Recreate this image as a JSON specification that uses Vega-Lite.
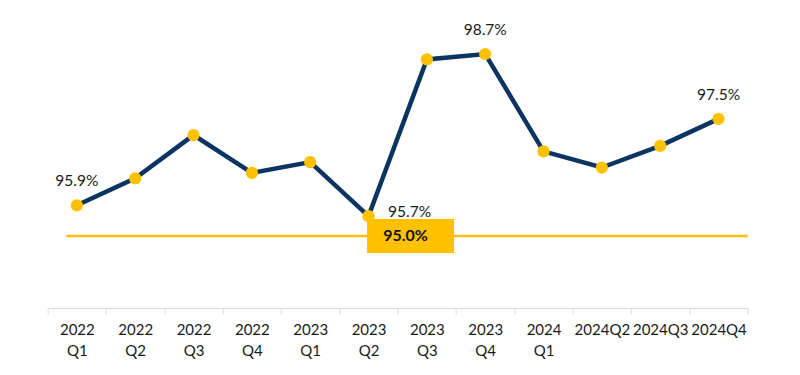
{
  "$schema": "https://vega.github.io/schema/vega-lite/v6.json",
  "width": 700,
  "height": 308,
  "autosize": {"type": "none"},
  "padding": {"left": 47.7, "top": 0, "right": 52.3, "bottom": 67},
  "background": "white",
  "config": {
    "view": {"stroke": null},
    "font": "Lato",
    "text": {"font": "Lato"}
  },
  "datasets": {
    "series": [
      {"period": "2022 Q1", "value": 0.959},
      {"period": "2022 Q2", "value": 0.964},
      {"period": "2022 Q3", "value": 0.972},
      {"period": "2022 Q4", "value": 0.965},
      {"period": "2023 Q1", "value": 0.967},
      {"period": "2023 Q2", "value": 0.957},
      {"period": "2023 Q3", "value": 0.986},
      {"period": "2023 Q4", "value": 0.987},
      {"period": "2024 Q1", "value": 0.969},
      {"period": "2024Q2", "value": 0.966},
      {"period": "2024Q3", "value": 0.970},
      {"period": "2024Q4", "value": 0.975}
    ],
    "target": [{"period": "2023 Q2", "target": 0.95}]
  },
  "resolve": {"scale": {"y": "independent"}},
  "layer": [
    {
      "data": {"name": "series"},
      "mark": {"type": "line", "color": "#0B3461", "strokeWidth": 4.5},
      "encoding": {
        "x": {
          "field": "period", "type": "nominal", "sort": null, "bandPosition": 0.5,
          "scale": {"type": "band", "paddingInner": 0, "paddingOuter": 0},
          "axis": {
            "title": null,
            "labelAngle": 0,
            "labelExpr": "split(datum.label, ' ')",
            "labelFont": "Lato",
            "labelFontSize": 15,
            "labelColor": "#1a1a1a",
            "labelLineHeight": 21,
            "labelPadding": 8,
            "labelBaseline": "top",
            "tickBand": "extent",
            "tickColor": "#D9D9D9",
            "tickSize": 6,
            "domainColor": "#D9D9D9",
            "domainWidth": 1.2,
            "grid": false
          }
        },
        "y": {"field": "value", "type": "quantitative", "scale": {"domain": [0.94, 0.997], "zero": false, "nice": false}, "axis": null}
      }
    },
    {
      "data": {"name": "series"},
      "mark": {"type": "point", "filled": true, "color": "#FFC000", "size": 150, "opacity": 1},
      "encoding": {
        "x": {"field": "period", "type": "nominal", "sort": null, "bandPosition": 0.5},
        "y": {"field": "value", "type": "quantitative", "scale": {"domain": [0.94, 0.997], "zero": false, "nice": false}, "axis": null}
      }
    },
    {
      "data": {"name": "series"},
      "transform": [{"filter": {"field": "period", "oneOf": ["2022 Q1", "2023 Q4", "2024Q4"]}}],
      "mark": {"type": "text", "dy": -24, "fontSize": 15.5, "color": "#1a1a1a", "baseline": "middle", "align": "center"},
      "encoding": {
        "x": {"field": "period", "type": "nominal", "sort": null, "bandPosition": 0.5},
        "y": {"field": "value", "type": "quantitative", "scale": {"domain": [0.94, 0.997], "zero": false, "nice": false}, "axis": null},
        "text": {"field": "value", "type": "quantitative", "format": ".1%"}
      }
    },
    {
      "data": {"name": "series"},
      "transform": [{"filter": {"field": "period", "oneOf": ["2023 Q2"]}}],
      "mark": {"type": "text", "dx": 41, "dy": -4, "fontSize": 15.5, "color": "#1a1a1a", "baseline": "middle", "align": "center"},
      "encoding": {
        "x": {"field": "period", "type": "nominal", "sort": null, "bandPosition": 0.5},
        "y": {"field": "value", "type": "quantitative", "scale": {"domain": [0.94, 0.997], "zero": false, "nice": false}, "axis": null},
        "text": {"field": "value", "type": "quantitative", "format": ".1%"}
      }
    },
    {
      "data": {"name": "target"},
      "layer": [
        {
          "mark": {"type": "rule", "color": "#FFC000", "strokeWidth": 2.5},
          "encoding": {
            "x": {"datum": "2022 Q1", "type": "nominal", "bandPosition": 0.32},
            "x2": {"value": "width"},
            "y": {"field": "target", "type": "quantitative", "scale": {"domain": [0.94, 0.9828], "zero": false, "nice": false}, "axis": null}
          }
        },
        {
          "mark": {"type": "point", "shape": "M-1,-0.39H1V0.39H-1Z", "filled": true, "color": "#FFC000", "opacity": 1, "size": 7569, "xOffset": 42},
          "encoding": {
            "x": {"field": "period", "type": "nominal", "bandPosition": 0.5},
            "y": {"field": "target", "type": "quantitative", "scale": {"domain": [0.94, 0.9828], "zero": false, "nice": false}, "axis": null}
          }
        },
        {
          "mark": {"type": "text", "dx": 37, "fontSize": 16, "fontWeight": "bold", "color": "#111111", "baseline": "middle", "align": "center"},
          "encoding": {
            "x": {"field": "period", "type": "nominal", "bandPosition": 0.5},
            "y": {"field": "target", "type": "quantitative", "scale": {"domain": [0.94, 0.9828], "zero": false, "nice": false}, "axis": null},
            "text": {"field": "target", "type": "quantitative", "format": ".1%"}
          }
        }
      ]
    }
  ]
}
